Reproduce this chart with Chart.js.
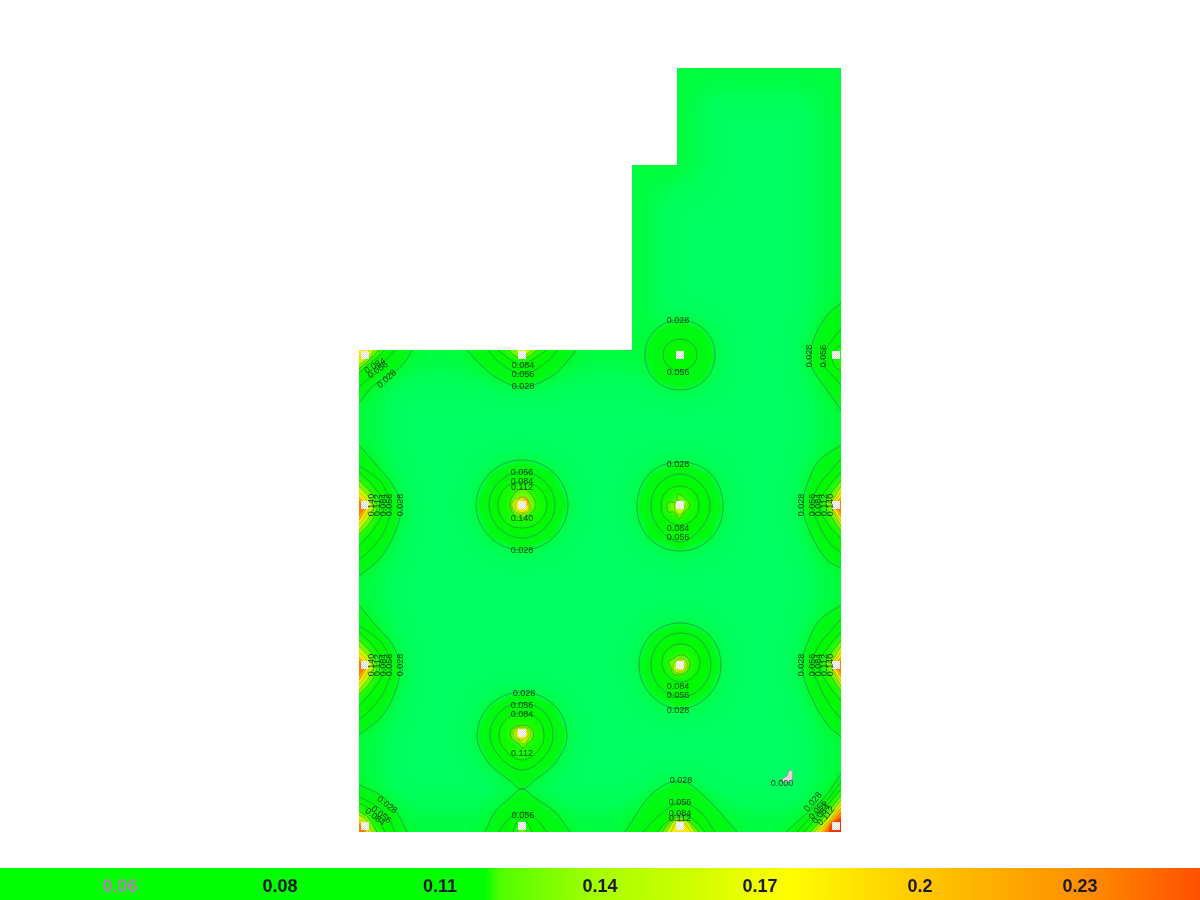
<!DOCTYPE html>
<html>
<head>
<meta charset="utf-8">
<title>Contour plan</title>
<script src="https://cdn.jsdelivr.net/npm/chart.js@4/dist/chart.umd.min.js"></script>
<style>
    html, body { margin: 0; background: #ffffff; }
    #planChart { position: absolute; left: 359px; top: 68px; }
    #scaleChart { position: absolute; left: 0; top: 868px; }
</style>
</head>
<body>
<canvas id="planChart" width="482" height="764"></canvas>
<canvas id="scaleChart" width="1200" height="32"></canvas>
<script>
const roomWidth = 482;
const roomHeight = 764;
const roomOutline = [[0, 0], [482, 0], [482, 764], [318, 764], [318, 667], [273, 667], [273, 482], [0, 482], [0, 0]];

const sourcePoints = [
    [6, 477], [163, 477], [321, 477], [477, 477],
    [6, 327], [163, 327], [321, 327], [477, 327],
    [6, 167], [321, 167], [477, 167], [163, 99],
    [6, 6], [163, 6], [321, 6], [477, 6]
];

const markerOutline = [[423, 50], [433, 50], [434, 61], [430, 62], [428, 56], [423, 53], [423, 50]];

const contours028 = [
    [[0, 429], [15, 447], [34, 459], [46, 470], [53, 482]],
    [[108, 482], [122, 467], [138, 454], [163, 445], [190, 454], [205, 467], [217, 482]],
    [[321, 512], [346, 502], [356, 477], [346, 452], [321, 442], [296, 452], [286, 477], [296, 502], [321, 512]],
    [[482, 529], [466, 514], [453, 487], [452, 467], [468, 442], [482, 422]],
    [[0, 387], [18, 366], [33, 348], [42, 326], [36, 300], [22, 275], [0, 256]],
    [[163, 372], [195, 359], [209, 327], [195, 295], [163, 282], [131, 295], [117, 327], [131, 359], [163, 372]],
    [[321, 370], [352, 358], [364, 326], [352, 294], [321, 281], [290, 294], [278, 326], [290, 358], [321, 370]],
    [[482, 387], [461, 372], [451, 355], [444, 327], [451, 300], [468, 272], [482, 264]],
    [[0, 227], [18, 205], [33, 188], [41, 165], [36, 140], [22, 115], [0, 97]],
    [[321, 209], [350, 197], [362, 167], [350, 137], [321, 123], [292, 137], [280, 167], [292, 197], [321, 209]],
    [[482, 227], [461, 212], [451, 195], [443, 167], [451, 138], [468, 108], [482, 95]],
    [[163, 140], [195, 127], [208, 97], [197, 70], [176, 52], [163, 43], [150, 52], [129, 70], [118, 97], [131, 127], [163, 140]],
    [[0, 47], [21, 37], [38, 19], [48, 0]],
    [[126, 0], [136, 20], [151, 34], [163, 43], [176, 34], [196, 20], [211, 0]],
    [[266, 0], [294, 39], [321, 51], [344, 37], [378, 0]],
    [[427, 0], [447, 18], [465, 34], [482, 58]]
];

const contours056 = [
    [[0, 445], [12, 456], [24, 469], [36, 482]],
    [[129, 482], [140, 470], [163, 458], [185, 468], [199, 482]],
    [[321, 493], [333, 488], [338, 477], [333, 466], [321, 461], [309, 466], [304, 477], [309, 488], [321, 493]],
    [[482, 503], [474, 493], [466, 480], [466, 465], [474, 456], [482, 447]],
    [[0, 366], [14, 357], [24, 347], [31, 327], [26, 302], [11, 282], [0, 272]],
    [[163, 360], [186, 350], [196, 327], [186, 304], [163, 294], [140, 304], [130, 327], [140, 350], [163, 360]],
    [[321, 358], [342, 348], [351, 326], [342, 304], [321, 290], [300, 304], [292, 326], [300, 348], [321, 358]],
    [[482, 373], [468, 357], [459, 345], [453, 327], [459, 309], [470, 290], [482, 279]],
    [[0, 206], [14, 197], [24, 187], [32, 167], [26, 142], [11, 122], [0, 112]],
    [[322, 199], [343, 190], [352, 167], [343, 145], [322, 135], [301, 145], [292, 167], [301, 190], [322, 199]],
    [[482, 213], [468, 197], [459, 185], [453, 167], [459, 149], [470, 128], [482, 113]],
    [[163, 129], [185, 120], [194, 97], [185, 75], [163, 62], [141, 75], [131, 97], [141, 120], [163, 129]],
    [[0, 35], [19, 25], [30, 13], [36, 0]],
    [[140, 0], [150, 13], [163, 20], [176, 14], [188, 0]],
    [[284, 0], [301, 17], [321, 29], [341, 20], [356, 0]],
    [[438, 0], [456, 19], [470, 34], [482, 50]]
];

const contours084 = [
    [[0, 459], [10, 468], [18, 474], [26, 482]],
    [[139, 482], [149, 474], [163, 467], [176, 474], [188, 482]],
    [[482, 487], [476, 482], [473, 475], [476, 465], [482, 462]],
    [[0, 360], [16, 344], [25, 326], [17, 306], [0, 286]],
    [[163, 350], [180, 344], [188, 327], [180, 310], [163, 304], [146, 310], [139, 327], [146, 344], [163, 350]],
    [[321, 346], [335, 340], [340, 326], [335, 313], [321, 307], [307, 313], [302, 326], [307, 340], [321, 346]],
    [[482, 360], [469, 345], [460, 327], [468, 309], [482, 293]],
    [[0, 200], [16, 184], [25, 164], [17, 146], [0, 126]],
    [[322, 188], [335, 183], [341, 169], [335, 156], [322, 150], [309, 156], [303, 169], [309, 183], [322, 188]],
    [[482, 200], [469, 185], [460, 167], [468, 149], [482, 131]],
    [[163, 119], [179, 113], [185, 96], [179, 81], [163, 72], [147, 81], [140, 96], [147, 113], [163, 119]],
    [[0, 29], [15, 20], [26, 0]],
    [[154, 0], [158, 10], [163, 14], [168, 10], [173, 0]],
    [[298, 0], [310, 12], [321, 18], [335, 12], [346, 0]],
    [[445, 0], [460, 17], [482, 43]]
];

const contours112 = [
    [[0, 463], [8, 470], [14, 476], [20, 482]],
    [[149, 482], [156, 476], [163, 473], [171, 476], [178, 482]],
    [[0, 352], [12, 340], [18, 325], [12, 310], [0, 297]],
    [[164, 344], [172, 338], [177, 327], [172, 319], [163, 314], [155, 318], [151, 327], [155, 338], [164, 344]],
    [[319, 338], [328, 332], [331, 326], [326, 320], [320, 313], [315, 320], [309, 320], [309, 330], [317, 330], [319, 338]],
    [[482, 352], [473, 340], [466, 327], [473, 314], [482, 300]],
    [[0, 192], [12, 180], [18, 165], [12, 150], [0, 137]],
    [[321, 177], [328, 175], [331, 168], [328, 160], [320, 157], [314, 158], [312, 164], [309, 170], [315, 174], [321, 177]],
    [[482, 192], [473, 180], [466, 167], [473, 154], [482, 140]],
    [[163, 107], [173, 103], [174, 94], [168, 88], [164, 84], [160, 88], [153, 93], [152, 102], [163, 107]],
    [[0, 21], [9, 15], [18, 0]],
    [[158, 0], [163, 4], [168, 0]],
    [[303, 0], [311, 10], [321, 15], [331, 10], [340, 0]],
    [[451, 0], [465, 15], [482, 37]]
];

const contours140 = [
    [[0, 467], [7, 472], [12, 477], [15, 482]],
    [[156, 482], [160, 478], [168, 478], [172, 482]],
    [[0, 346], [9, 336], [14, 325], [9, 313], [0, 302]],
    [[165, 335], [170, 330], [171, 322], [165, 318], [158, 319], [153, 325], [155, 332], [165, 335]],
    [[319, 332], [324, 328], [326, 324], [321, 317], [316, 322], [316, 329], [319, 332]],
    [[482, 346], [476, 336], [472, 327], [476, 317], [482, 306]],
    [[0, 186], [9, 176], [14, 165], [9, 153], [0, 142]],
    [[321, 174], [327, 171], [328, 165], [323, 159], [316, 160], [314, 166], [317, 171], [321, 174]],
    [[482, 186], [476, 176], [472, 167], [476, 157], [482, 146]],
    [[163, 105], [171, 101], [170, 94], [165, 88], [160, 92], [155, 95], [155, 102], [163, 105]],
    [[0, 17], [7, 12], [13, 0]],
    [[307, 0], [314, 10], [321, 12], [329, 10], [336, 0]],
    [[455, 0], [468, 13], [482, 32]]
];

const contours168 = [
    [[0, 474], [5, 476], [9, 479], [10, 482]],
    [[0, 340], [6, 334], [10, 325], [6, 315], [0, 307]],
    [[167, 334], [170, 328], [168, 321], [160, 320], [156, 326], [160, 333], [167, 334]],
    [[482, 340], [477, 333], [474, 326], [477, 318], [482, 311]],
    [[0, 180], [6, 174], [10, 165], [6, 155], [0, 147]],
    [[322, 172], [326, 168], [323, 161], [318, 162], [318, 170], [322, 172]],
    [[482, 180], [477, 173], [474, 166], [477, 158], [482, 151]],
    [[162, 103], [169, 100], [168, 95], [163, 92], [158, 95], [157, 101], [162, 103]],
    [[0, 13], [6, 9], [10, 0]],
    [[312, 0], [317, 9], [325, 9], [332, 0]],
    [[458, 0], [470, 11], [482, 28]]
];

const contours196 = [
    [[0, 335], [4, 330], [7, 325], [4, 318], [0, 312]],
    [[167, 333], [169, 329], [167, 327], [164, 331], [167, 333]],
    [[482, 335], [479, 331], [476, 326], [479, 320], [482, 315]],
    [[0, 175], [4, 170], [7, 165], [4, 158], [0, 152]],
    [[482, 175], [479, 171], [476, 166], [479, 160], [482, 155]],
    [[0, 10], [5, 6], [7, 0]],
    [[462, 0], [471, 10], [482, 24]]
];

const contours224 = [
    [[0, 331], [3, 328], [5, 325], [3, 321], [0, 317]],
    [[482, 331], [480, 328], [478, 326], [480, 322], [482, 319]],
    [[0, 171], [3, 168], [5, 165], [3, 161], [0, 157]],
    [[482, 171], [480, 168], [478, 166], [480, 162], [482, 159]],
    [[0, 7], [4, 4], [5, 0]],
    [[466, 0], [472, 9], [482, 19]]
];

const contours252 = [
    [[470, 0], [473, 8], [482, 14]]
];

const contourLabelTexts = [
    '0.084', '0.056', '0.028', '0.084', '0.056', '0.028', '0.028', '0.056', '0.028', '0.056',
    '0.056', '0.084', '0.112', '0.140', '0.028', '0.028', '0.084', '0.056',
    '0.028', '0.056', '0.084', '0.112', '0.140', '0.028', '0.056', '0.084', '0.112', '0.140',
    '0.028', '0.056', '0.084', '0.112', '0.140', '0.028', '0.056', '0.084', '0.112', '0.140',
    '0.084', '0.056', '0.028', '0.028', '0.056', '0.084', '0.112',
    '0.028', '0.056', '0.084', '0.056', '0.028', '0.056', '0.084', '0.112',
    '0.028', '0.056', '0.084', '0.112', '0.000'
];
const contourLabelX = [
    164, 164, 164, 16, 19, 28, 319, 319, 451, 465,
    163, 163, 163, 163, 163, 319, 319, 319,
    42, 31, 25, 19, 13, 443, 454, 460, 466, 472,
    42, 31, 25, 19, 13, 443, 454, 460, 466, 472,
    319, 319, 319, 165, 163, 163, 163,
    28, 22, 16, 164, 322, 321, 321, 321,
    454, 459, 462, 467, 423
];
const contourLabelY = [
    466, 457, 445, 466, 462, 453, 511, 459, 476, 476,
    359, 350, 344, 313, 281, 367, 303, 294,
    327, 327, 327, 327, 327, 327, 327, 327, 327, 327,
    167, 167, 167, 167, 167, 167, 167, 167, 167, 167,
    145, 136, 121, 138, 126, 117, 78,
    27, 17, 15, 16, 51, 29, 18, 13,
    30, 22, 18, 16, 48
];
const contourLabelAngles = [
    0, 0, 0, -30, -35, -42, 0, 0, -90, -90,
    0, 0, 0, 0, 0, 0, 0, 0,
    -90, -90, -90, -90, -90, -90, -90, -90, -90, -90,
    -90, -90, -90, -90, -90, -90, -90, -90, -90, -90,
    0, 0, 0, 0, 0, 0, 0,
    38, 38, 38, 0, 0, 0, 0, 0,
    -50, -50, -50, -50, 0
];

const scaleMin = 0.035;
const scaleMax = 0.245;
const scaleTickValues = [0.056, 0.084, 0.112, 0.14, 0.168, 0.196, 0.224];
const scaleTickLabels = ['0.06', '0.08', '0.11', '0.14', '0.17', '0.2', '0.23'];
const scaleStopValues = [0.035, 0.1199, 0.1225, 0.14, 0.154, 0.173, 0.196, 0.224, 0.245];
const scaleStopColors = ['#00ff00', '#00ff00', '#50ff00', '#a8ff00', '#c8ff00', '#ffff00', '#ffc800', '#ff9000', '#ff5000'];

const contourSets = [contours028, contours056, contours084, contours112, contours140, contours168, contours196, contours224, contours252];
const contourFills = ['#00fa12', '#00fb00', '#14ff00', '#70ff00', '#c8ff00', '#ffe800', '#ffb000', '#ff7800', '#ff3000'];
const contourBlurs = [2, 3, 3, 2, 1.5, 1, 1, 0.8, 0.8];
const contourLines = [
    'rgba(40, 145, 80, 0.8)', 'rgba(40, 145, 80, 0.8)', 'rgba(40, 145, 80, 0.8)', 'rgba(70, 150, 40, 0.75)',
    'rgba(130, 150, 0, 0.65)', 'rgba(175, 135, 0, 0.55)', 'rgba(195, 115, 0, 0.55)', 'rgba(195, 85, 0, 0.55)', 'rgba(185, 45, 0, 0.55)'
];
const roomFill = '#00ff60';
const wallShade = 'rgba(0, 250, 0, 0.45)';
const haloFill = 'rgba(0, 255, 20, 0.9)';
const wallOverrun = 12;

function toPoints(list) {
    return list.map(function (p) {
        return { x: p[0], y: p[1] };
    });
}

function isClosed(ring) {
    const last = ring[ring.length - 1];
    return ring[0][0] === last[0] && ring[0][1] === last[1];
}

function onSideWall(p) {
    return p.x === 0 || p.x === roomWidth;
}

function pushOut(p) {
    if (p.x === 0) return { x: -wallOverrun, y: p.y };
    if (p.x === roomWidth) return { x: roomWidth + wallOverrun, y: p.y };
    if (p.y === 0) return { x: p.x, y: -wallOverrun };
    return { x: p.x, y: p.y + wallOverrun };
}

// open contours end on a wall, so their fill has to run past it (blur would fade otherwise)
function fillPolygon(ring) {
    const points = toPoints(ring);

    if (isClosed(ring)) {
        return points;
    }

    const first = points[0];
    const last = points[points.length - 1];
    const start = pushOut(first);
    const end = pushOut(last);
    const polygon = [start].concat(points, [end]);

    if (first.x !== last.x && first.y !== last.y) {
        polygon.push(onSideWall(first) ? { x: start.x, y: end.y } : { x: end.x, y: start.y });
    }

    return polygon;
}

function fillDataset(data, color) {
    return {
        data: data,
        showLine: true,
        fill: 'shape',
        backgroundColor: color,
        borderWidth: 0,
        pointRadius: 0,
        tension: 0
    };
}

// closed rings get one extra point on each end, with those end pieces hidden, so the spline has no kink at the join
function contourLineDataset(ring, color) {
    const dataset = {
        showLine: true,
        fill: false,
        borderColor: color,
        borderWidth: 1,
        pointRadius: 0,
        tension: 0.38
    };

    if (!isClosed(ring)) {
        dataset.data = toPoints(ring);
        return dataset;
    }

    const wrapped = [ring[ring.length - 2]].concat(ring, [ring[1]]);
    const lastIndex = wrapped.length - 1;
    dataset.data = toPoints(wrapped);
    dataset.segment = {
        borderColor: function (ctx) {
            return ctx.p0DataIndex === 0 || ctx.p1DataIndex === lastIndex ? 'rgba(0, 0, 0, 0)' : undefined;
        }
    };
    return dataset;
}

function hatchPattern(ctx) {
    const tile = document.createElement('canvas');
    tile.width = 2;
    tile.height = 2;
    const tileCtx = tile.getContext('2d');
    tileCtx.fillStyle = '#ffffff';
    tileCtx.fillRect(0, 0, 2, 2);
    tileCtx.fillStyle = '#dcdcdc';
    tileCtx.fillRect(0, 0, 1, 1);
    tileCtx.fillRect(1, 1, 1, 1);
    return ctx.createPattern(tile, 'repeat');
}

function planDatasets(ctx) {
    const room = fillDataset(toPoints(roomOutline), roomFill);
    room.nextFilter = 'blur(16px)';

    // soft darker band along the walls
    const wallBand = {
        data: toPoints(roomOutline),
        showLine: true,
        fill: false,
        borderColor: wallShade,
        borderWidth: 34,
        pointRadius: 0,
        tension: 0,
        nextFilter: 'blur(12px)'
    };

    const painted = [room, wallBand];

    // the field keeps fading for a while outside the lowest contour
    contours028.forEach(function (ring) {
        painted.push(fillDataset(fillPolygon(ring), haloFill));
    });
    painted[painted.length - 1].nextFilter = 'blur(' + contourBlurs[0] + 'px)';

    contourSets.forEach(function (rings, level) {
        rings.forEach(function (ring, i) {
            const dataset = fillDataset(fillPolygon(ring), contourFills[level]);
            if (i === rings.length - 1 && level < contourSets.length - 1) {
                dataset.nextFilter = 'blur(' + contourBlurs[level + 1] + 'px)';
            }
            painted.push(dataset);
        });
    });
    painted[painted.length - 1].nextFilter = 'blur(0.5px)';

    contourSets.forEach(function (rings, level) {
        rings.forEach(function (ring) {
            painted.push(contourLineDataset(ring, contourLines[level]));
        });
    });

    const marker = fillDataset(toPoints(markerOutline), '#e6d2da');
    marker.borderColor = '#7f8f86';
    marker.borderWidth = 0.6;
    painted.push(marker);

    painted.push({
        data: toPoints(sourcePoints),
        showLine: false,
        pointStyle: 'rect',
        pointRadius: 5.6,
        pointBackgroundColor: hatchPattern(ctx),
        pointBorderWidth: 0
    });

    // Chart.js paints the last dataset first
    return painted.reverse();
}

const roomClipAndBlur = {
    id: 'roomClipAndBlur',
    beforeDatasetsDraw(chart) {
        const ctx = chart.ctx;
        ctx.save();
        ctx.beginPath();
        roomOutline.forEach(function (p, i) {
            const px = chart.scales.x.getPixelForValue(p[0]);
            const py = chart.scales.y.getPixelForValue(p[1]);
            if (i === 0) {
                ctx.moveTo(px, py);
            } else {
                ctx.lineTo(px, py);
            }
        });
        ctx.closePath();
        ctx.clip();
    },
    afterDatasetDraw(chart, args) {
        const dataset = chart.data.datasets[args.index];
        if (dataset.nextFilter) {
            chart.ctx.filter = dataset.nextFilter;
        }
    },
    afterDatasetsDraw(chart) {
        chart.ctx.restore();
    }
};

const contourLabels = {
    id: 'contourLabels',
    afterDraw(chart) {
        const ctx = chart.ctx;
        ctx.save();
        ctx.font = '9px "Liberation Sans", Arial, sans-serif';
        ctx.fillStyle = 'rgba(0, 30, 15, 0.85)';
        ctx.textAlign = 'center';
        ctx.textBaseline = 'middle';
        contourLabelTexts.forEach(function (text, i) {
            ctx.save();
            ctx.translate(chart.scales.x.getPixelForValue(contourLabelX[i]), chart.scales.y.getPixelForValue(contourLabelY[i]));
            ctx.rotate(contourLabelAngles[i] * Math.PI / 180);
            ctx.fillText(text, 0, 0);
            ctx.restore();
        });
        ctx.restore();
    }
};

function initPlanChart() {
    const ctx = document.getElementById('planChart').getContext('2d');

    new Chart(ctx, {
        type: 'scatter',
        data: {
            datasets: planDatasets(ctx)
        },
        options: {
            responsive: false,
            animation: false,
            events: [],
            layout: { padding: 0, autoPadding: false },
            plugins: {
                legend: { display: false },
                tooltip: { enabled: false }
            },
            scales: {
                x: { type: 'linear', min: 0, max: roomWidth, display: false },
                y: { type: 'linear', min: 0, max: roomHeight, display: false }
            }
        },
        plugins: [roomClipAndBlur, contourLabels]
    });
}

function scaleGradient(ctx) {
    const gradient = ctx.createLinearGradient(0, 0, ctx.canvas.width, 0);

    scaleStopValues.forEach(function (value, i) {
        gradient.addColorStop((value - scaleMin) / (scaleMax - scaleMin), scaleStopColors[i]);
    });

    return gradient;
}

function initScaleChart() {
    const ctx = document.getElementById('scaleChart').getContext('2d');

    new Chart(ctx, {
        type: 'bar',
        data: {
            labels: ['scale'],
            datasets: [{
                data: [[scaleMin, scaleMax]],
                backgroundColor: scaleGradient(ctx),
                borderWidth: 0,
                barPercentage: 1,
                categoryPercentage: 1
            }]
        },
        options: {
            indexAxis: 'y',
            responsive: false,
            animation: false,
            events: [],
            layout: { padding: 0, autoPadding: false },
            plugins: {
                legend: { display: false },
                tooltip: { enabled: false }
            },
            scales: {
                y: { display: false },
                x: {
                    type: 'linear',
                    min: scaleMin,
                    max: scaleMax,
                    afterBuildTicks: function (axis) {
                        axis.ticks = scaleTickValues.map(function (value) {
                            return { value: value };
                        });
                    },
                    afterFit: function (axis) {
                        axis.height = 0;
                    },
                    grid: { display: false },
                    border: { display: false },
                    ticks: {
                        z: 1,
                        mirror: true,
                        padding: 2,
                        autoSkip: false,
                        maxRotation: 0,
                        font: { family: '"Liberation Sans", Arial, sans-serif', size: 18, weight: 'bold' },
                        color: function (context) {
                            return context.index === 0 ? '#b57fb5' : '#1c1a30';
                        },
                        callback: function (value, index) {
                            return scaleTickLabels[index];
                        }
                    }
                }
            }
        }
    });
}

initPlanChart();
initScaleChart();
</script>
</body>
</html>
